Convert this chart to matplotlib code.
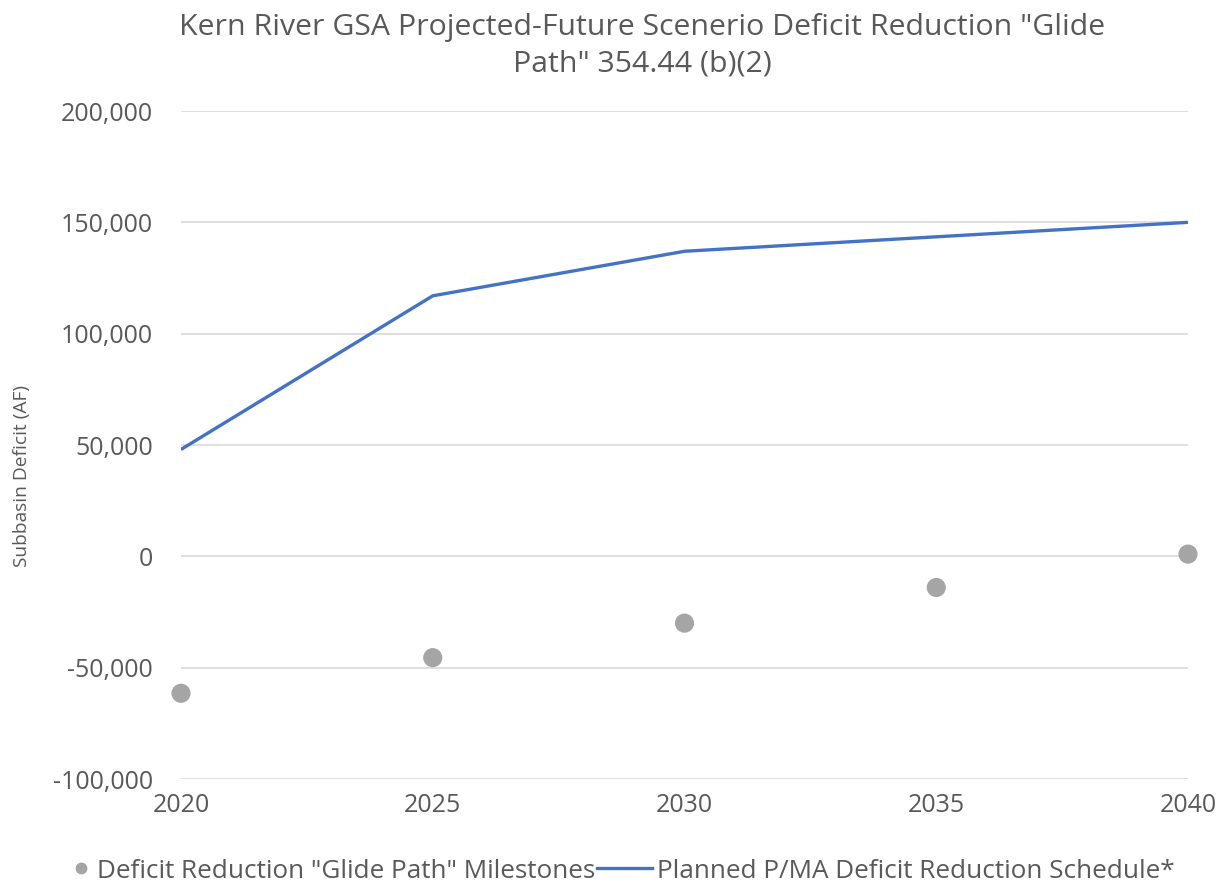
import matplotlib
matplotlib.use("Agg")
import matplotlib.pyplot as plt
from matplotlib.ticker import FuncFormatter
from matplotlib.lines import Line2D
from matplotlib.legend_handler import HandlerLine2D

years = [2020, 2025, 2030, 2035, 2040]
milestones = [-61500, -45500, -30000, -14000, 1000]
planned = [48000, 117000, 137000, 143500, 150000]
yticks = [-100000, -50000, 0, 50000, 100000, 150000, 200000]
xticks = [2020, 2025, 2030, 2035, 2040]

title = 'Kern River GSA Projected-Future Scenerio Deficit Reduction "Glide\nPath" 354.44 (b)(2)'
ylabel = 'Subbasin Deficit (AF)'
label_ms = 'Deficit Reduction "Glide Path" Milestones'
label_pl = 'Planned P/MA Deficit Reduction Schedule*'

plt.rcParams['font.family'] = ['Open Sans', 'DejaVu Sans']
txt = '#595959'


class ShiftedMarker(HandlerLine2D):
    def __init__(self, shift, **kw):
        super().__init__(**kw)
        self.shift = shift

    def create_artists(self, legend, orig_handle, xdescent, ydescent, width, height, fontsize, trans):
        return super().create_artists(legend, orig_handle, xdescent - self.shift, ydescent,
                                      width, height, fontsize, trans)


fig = plt.figure(figsize=(12.28, 8.86), dpi=100)
ax = fig.add_axes([181/1228, 1-779/886, (1188-181)/1228, (779-111)/886])

ax.plot(years, planned, color='#4472c4', lw=2.4, solid_capstyle='butt', zorder=3)
ax.scatter(years, milestones, s=190, color='#a5a5a5', edgecolors='none', zorder=4, clip_on=False)

ax.set_xlim(2020, 2040)
ax.set_ylim(-100000, 200000)
ax.set_yticks(yticks)
ax.set_xticks(xticks)
ax.yaxis.set_major_formatter(FuncFormatter(lambda v, p: f'{int(v):,}'))
ax.grid(axis='y', color='#d9d9d9', lw=1.2)
ax.set_axisbelow(True)
for s in ax.spines.values():
    s.set_visible(False)
ax.tick_params(length=0, labelsize=18, colors=txt)
ax.tick_params(axis='y', pad=20)
ax.tick_params(axis='x', pad=10)
ax.set_ylabel(ylabel, fontsize=13.8, color=txt)
ax.yaxis.set_label_coords(-0.149, 0.454)

fig.text(0.523, 0.985, title, ha='center', va='top', fontsize=21.8, color=txt, linespacing=1.32)

h_ms = Line2D([], [], marker='o', ls='none', color='#a5a5a5', markersize=7.5)
h_pl = Line2D([], [], color='#4472c4', lw=2.4)
fig.legend([h_ms, h_pl], [label_ms, label_pl], loc='center left',
           bbox_to_anchor=(37.5/1228, 1-871/886),
           ncol=2, frameon=False, fontsize=18.8, labelcolor=txt, handlelength=2.08,
           handletextpad=0.2, columnspacing=0.08, borderpad=0, borderaxespad=0,
           handler_map={h_ms: ShiftedMarker(11.5, numpoints=1)})

fig.savefig('out.png', dpi=100, facecolor='white')
